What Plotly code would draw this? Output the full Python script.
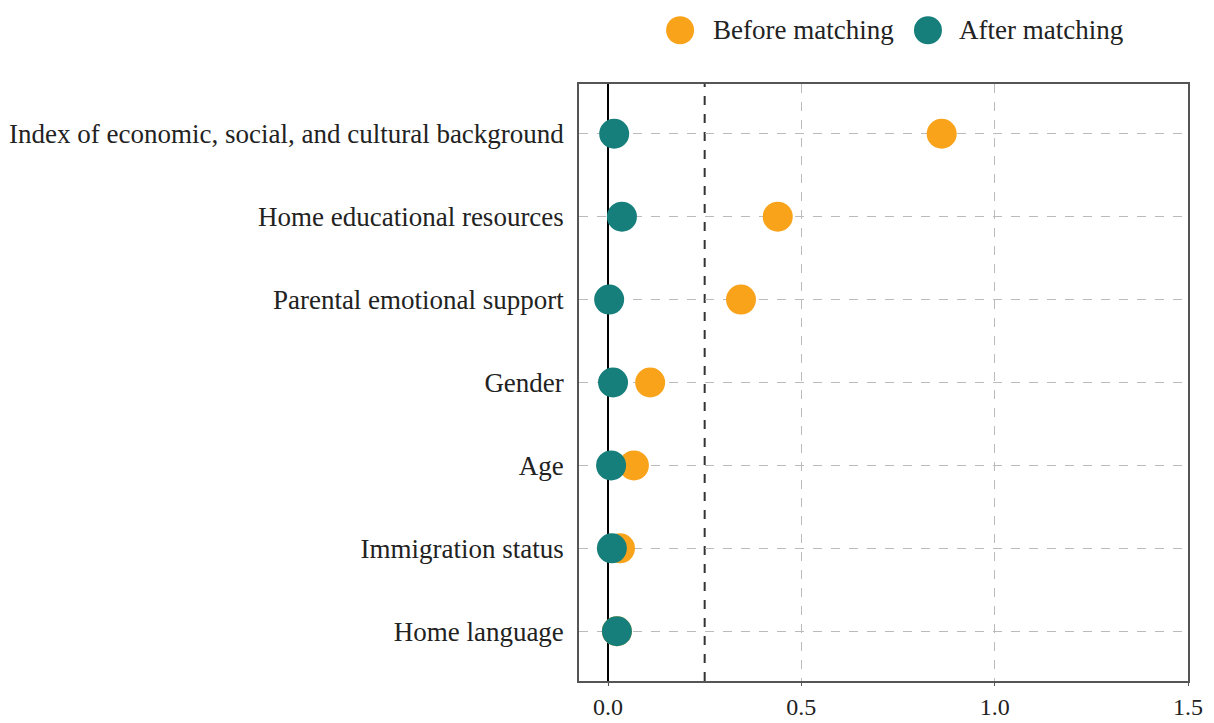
import plotly.graph_objects as go

categories = [
    "Index of economic, social, and cultural background",
    "Home educational resources",
    "Parental emotional support",
    "Gender",
    "Age",
    "Immigration status",
    "Home language",
]
before_matching = [0.863, 0.439, 0.344, 0.109, 0.067, 0.031, 0.023]
after_matching = [0.016, 0.036, 0.003, 0.013, 0.008, 0.010, 0.023]
x_ticks = [0.0, 0.5, 1.0, 1.5]
x_tick_labels = ["0.0", "0.5", "1.0", "1.5"]
threshold = 0.25

ORANGE = "#F9A31B"
TEAL = "#167F7B"
FONT = "Liberation Serif"
FS = 27

fig = go.Figure()
fig.add_trace(go.Scatter(
    x=before_matching, y=categories, mode="markers", name="Before matching",
    marker=dict(color=ORANGE, size=30, line=dict(width=0)), showlegend=False,
))
fig.add_trace(go.Scatter(
    x=after_matching, y=categories, mode="markers", name="After matching",
    marker=dict(color=TEAL, size=30, line=dict(width=0)), showlegend=False,
))

# threshold reference line
fig.add_vline(x=threshold, line=dict(color="#333333", width=2, dash="dash"), layer="below")

# custom legend (large markers)
LEG_Y = 1.090
legend_items = [("Before matching", ORANGE, 0.166, 0.217), ("After matching", TEAL, 0.573, 0.621)]
for label, color, cx, tx in legend_items:
    fig.add_shape(type="circle", xref="paper", yref="paper", xsizemode="pixel", ysizemode="pixel",
                  xanchor=cx, yanchor=LEG_Y, x0=-14, x1=14, y0=-14, y1=14,
                  fillcolor=color, line=dict(width=0))
    fig.add_annotation(x=tx, y=LEG_Y, xref="paper", yref="paper", text=label, showarrow=False,
                       xanchor="left", yanchor="middle", font=dict(family=FONT, size=FS, color="#222222"))

fig.update_layout(
    width=1214, height=723,
    margin=dict(l=579, r=26, t=84, b=42),
    paper_bgcolor="white", plot_bgcolor="white",
    font=dict(family=FONT, size=FS, color="#222222"),
    showlegend=False,
)
fig.update_xaxes(
    range=[-0.075, 1.5], tickvals=x_ticks, ticktext=x_tick_labels,
    showgrid=True, gridcolor="#BBBBBB", griddash="dash", gridwidth=1,
    zeroline=True, zerolinecolor="black", zerolinewidth=1.8,
    showline=True, linecolor="#555555", linewidth=1.5, mirror=True,
    ticks="outside", ticklen=3, tickcolor="#555555", automargin=False, ticklabelstandoff=0,
    tickfont=dict(size=24),
)
fig.update_yaxes(
    categoryorder="array", categoryarray=categories, autorange=False, range=[6.6, -0.6],
    showgrid=True, gridcolor="#BBBBBB", griddash="dash", gridwidth=1,
    zeroline=False, showline=True, linecolor="#555555", linewidth=1.5, mirror=True,
    ticks="", ticklabelstandoff=8, automargin=False,
)

fig.write_html("out.html")
